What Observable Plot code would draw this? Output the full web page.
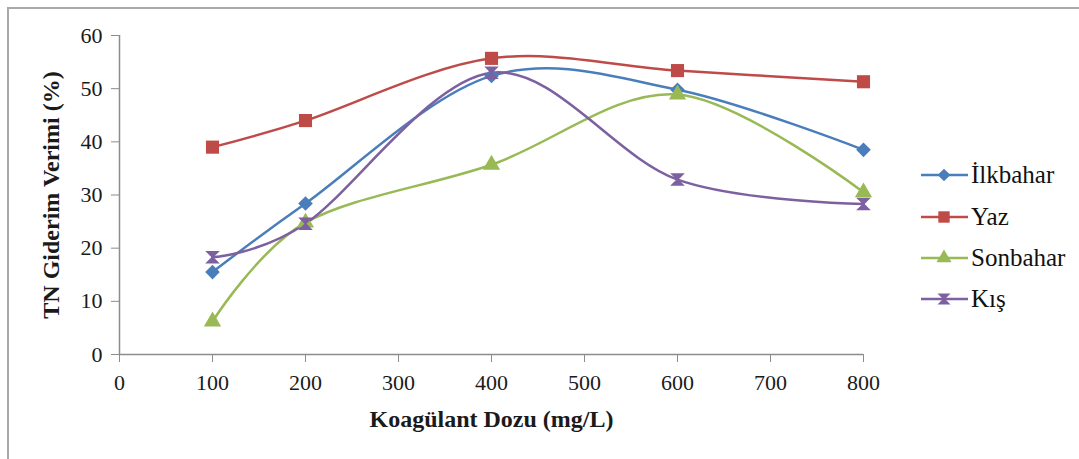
<!DOCTYPE html>
<html><head><meta charset="utf-8">
<script src="https://cdn.jsdelivr.net/npm/d3@7"></script>
<script src="https://cdn.jsdelivr.net/npm/@observablehq/plot@0.6"></script>
<style>
body{margin:0;background:#fff;}
#wrap{position:relative;width:1079px;height:459px;overflow:hidden;font-family:"Liberation Serif","Times New Roman",serif;}
#frame{position:absolute;left:7px;top:7px;width:1120px;height:520px;border:2px solid #a9a9a9;box-sizing:border-box;pointer-events:none;}
#chart{position:absolute;left:0;top:0;}
#legend{position:absolute;left:919px;top:0;}
.li{position:absolute;left:0;height:28px;display:flex;align-items:center;white-space:nowrap;font-family:"Liberation Serif","Times New Roman",serif;font-size:25px;color:#111;}
.li svg{display:block;margin-right:3px;}
svg g[aria-label="x-axis label"] text, svg g[aria-label="y-axis label"] text{font-weight:bold;font-size:24px;}
</style></head><body>
<div id="wrap"><div id="chart"></div><div id="legend"></div><div id="frame"></div></div>
<script>
// ---- data ----
const doses = [100, 200, 400, 600, 800];
const seriesNames = ["İlkbahar", "Yaz", "Sonbahar", "Kış"];
const ilkbahar = [15.5, 28.4, 52.4, 49.8, 38.5];
const yaz = [39.0, 44.0, 55.7, 53.4, 51.3];
const sonbahar = [6.2, 24.8, 35.7, 48.9, 30.5];
const kis = [18.3, 24.6, 53.0, 32.9, 28.3];
const xTicks = [0, 100, 200, 300, 400, 500, 600, 700, 800];
const yTicks = [0, 10, 20, 30, 40, 50, 60];
const xLabel = "Koagülant Dozu (mg/L)";
const yLabel = "TN Giderim Verimi (%)";

// ---- styling ----
const colors = ["#4a7ebb", "#be4b48", "#98b954", "#7d60a0"];
const hourglass = {
  draw(ctx, size) {
    const s = Math.sqrt(size) / 2;
    ctx.moveTo(-s, -s); ctx.lineTo(s, -s); ctx.lineTo(-s, s); ctx.lineTo(s, s); ctx.closePath();
  }
};
const symbols = ["diamond2", "square", "triangle", hourglass];
const radii = [6.6, 7.4, 6.4, 6.2];

const allValues = [ilkbahar, yaz, sonbahar, kis];
const rows = seriesNames.flatMap((name, i) =>
  doses.map((dose, j) => ({series: name, dose, value: allValues[i][j]})));

const marks = [
  Plot.ruleY([0], {stroke: "#8c8c8c", strokeWidth: 1.5}),
  Plot.ruleX([0], {stroke: "#8c8c8c", strokeWidth: 1.5}),
  Plot.axisX({ticks: xTicks, tickSize: 8, tickPadding: 12, stroke: "#8c8c8c", fill: "#1a1a1a", fontSize: 22,
    label: xLabel, labelAnchor: "center", labelArrow: "none", labelOffset: 72}),
  Plot.axisY({ticks: yTicks, tickSize: 8, tickPadding: 9, stroke: "#8c8c8c", fill: "#1a1a1a", fontSize: 22,
    label: yLabel, labelAnchor: "center", labelArrow: "none", labelOffset: 78})
];
seriesNames.forEach((name, i) => {
  const data = rows.filter(d => d.series === name);
  marks.push(Plot.line(data, {x: "dose", y: "value", stroke: colors[i], strokeWidth: 2.5, curve: "cardinal"}));
});
seriesNames.forEach((name, i) => {
  const data = rows.filter(d => d.series === name);
  marks.push(Plot.dot(data, {x: "dose", y: "value", symbol: () => symbols[i], fill: colors[i],
    stroke: i === 3 ? colors[i] : "none", strokeWidth: 1.5, r: radii[i]}));
});

const chart = Plot.plot({
  width: 1079, height: 459,
  marginLeft: 119, marginRight: 216, marginTop: 35, marginBottom: 105,
  x: {domain: [0, 800]},
  y: {domain: [0, 60]},
  symbol: {type: "identity"},
  style: {fontFamily: "Liberation Serif", fontSize: "22px", background: "transparent", color: "#1a1a1a"},
  marks
});
document.getElementById("chart").appendChild(chart);

// ---- legend ----
const legend = document.getElementById("legend");
const legendY = [175, 217, 258, 299];
seriesNames.forEach((name, i) => {
  const item = document.createElement("div");
  item.className = "li";
  item.style.top = (legendY[i] - 14) + "px";
  const sym = symbols[i];
  const symType = typeof sym === "string" ? {diamond2: d3.symbolDiamond2, square: d3.symbolSquare, triangle: d3.symbolTriangle}[sym] : sym;
  const path = d3.symbol(symType, Math.PI * radii[i] * radii[i] * 0.75)();
  const svg = d3.create("svg").attr("width", 49).attr("height", 28);
  svg.append("line").attr("x1", 2).attr("x2", 49).attr("y1", 14).attr("y2", 14)
    .attr("stroke", colors[i]).attr("stroke-width", 2.5);
  svg.append("path").attr("d", path).attr("transform", "translate(25,14)")
    .attr("fill", colors[i]).attr("stroke", i === 3 ? colors[i] : "none").attr("stroke-width", 1.5);
  item.appendChild(svg.node());
  item.appendChild(document.createTextNode(name));
  legend.appendChild(item);
});
</script>
</body></html>
